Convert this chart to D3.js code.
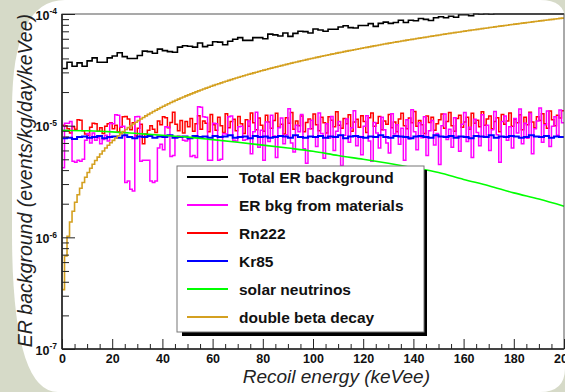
<!DOCTYPE html>
<html>
<head>
<meta charset="utf-8">
<script src="https://cdn.jsdelivr.net/npm/d3@7"></script>
<style>
  html, body { margin: 0; padding: 0; background: #d6dac8; }
  svg { display: block; font-family: "Liberation Sans", Arial, Helvetica, sans-serif; }
</style>
</head>
<body>
<svg id="chart" width="565" height="392"></svg>
<script>
  // all rates are in units of 1e-6 events/kg/day/keVee
  const UNIT = 1e-6;

  const xTicks = [0, 20, 40, 60, 80, 100, 120, 140, 160, 180, 200];
  const yDecades = [1e-7, 1e-6, 1e-5, 1e-4];

  // total ER background, 2 keV bins
  const totalBkg = [
    32.5, 37, 34, 36.5, 34, 38, 40.5, 37, 37, 40.5,
    42, 45, 41.5, 40, 40, 42.5, 46.5, 46, 44.5, 48.5,
    47, 46, 45.5, 50.5, 52, 51.5, 50.5, 55, 51, 52.5,
    56.5, 56, 53, 57, 59.5, 61.5, 58, 58, 61.5, 61.5,
    60, 66, 65, 63.5, 67.5, 63, 67, 70, 69.5, 67.5,
    73.5, 72, 70, 73, 73, 76.5, 78.5, 75.5, 75, 79,
    79, 82, 77.5, 82.5, 84.5, 82.5, 84, 88, 84, 88,
    87, 91, 89.5, 87.5, 92.5, 94.5, 92.5, 95.5, 93.5, 98.5,
    98.5, 96.5, 101, 99.5, 102.5, 99.5, 104.5, 106.5, 103.5, 107.5,
    107.5, 107.5, 111.5, 110.5, 111, 114, 114, 116, 115, 118.5
  ];

  // ER bkg from materials, 1 keV bins
  const materials = [
    4.2, 10.5, 10.5, 10.9, 4.8, 4.7, 4.9, 4.8, 5.0, 7.4,
    8.5, 7.0, 8.6, 7.4, 7.8, 6.9, 7.5, 8.2, 7.3, 10.5,
    10.4, 12.5, 12.4, 9.8, 9.9, 3.1, 3.2, 2.7, 2.6, 12.0,
    12.1, 4.8, 4.9, 4.9, 4.9, 3.2, 3.1, 3.2, 6.3, 6.8,
    6.1, 9.8, 9.7, 5.3, 5.4, 7.9, 8.1, 7.9, 7.4, 7.3,
    7.5, 5.3, 5.4, 5.2, 14.8, 14.6, 12.0, 11.9, 4.9, 4.9,
    10.5, 10.4, 4.9, 5.0, 8.5, 8.4, 12.0, 12.2, 7.4, 7.3,
    9.8, 9.9, 7.4, 7.5, 11.0, 5.6, 8.8, 13.2, 6.4, 9.1,
    4.9, 10.8, 7.2, 12.4, 8.1, 5.2, 9.6, 11.7, 6.9, 8.3,
    14.2, 7.0, 5.8, 10.1, 8.8, 12.6, 6.2, 4.6, 9.4, 11.2,
    7.9, 6.5, 13.0, 8.5, 5.1, 10.4, 7.7, 12.1, 6.0, 8.9,
    10.9, 4.4, 8.2, 11.5, 7.1, 9.6, 13.6, 6.6, 8.0, 5.5,
    9.9, 12.3, 7.3, 4.8, 10.7, 8.6, 6.3, 11.9, 9.2, 7.0,
    5.7, 12.8, 8.4, 10.2, 6.8, 9.5, 4.9, 11.3, 7.6, 13.9,
    8.8, 6.1, 10.6, 7.8, 12.0, 5.4, 9.0, 11.1, 6.7, 8.5,
    4.5, 10.0, 12.7, 7.5, 9.3, 6.4, 11.8, 8.0, 5.9, 10.3,
    13.1, 7.2, 9.7, 5.2, 11.4, 8.7, 6.6, 12.5, 7.9, 10.1,
    6.0, 9.2, 13.4, 8.3, 4.7, 10.9, 12.2, 7.4, 9.8, 6.3,
    11.6, 8.6, 14.1, 6.9, 10.5, 7.7, 12.9, 5.6, 9.4, 11.0,
    14.4, 7.1, 10.2, 13.5, 6.5, 9.9, 12.0, 8.2, 13.8, 10.6
  ];

  // Rn222, 1 keV bins
  const rn222 = [
    10.1, 10.0, 9.4, 8.6, 9.8, 9.3, 11.3, 11.2, 9.0, 8.4,
    8.2, 9.7, 10.5, 10.4, 8.9, 9.6, 8.5, 9.9, 10.4, 10.6,
    9.4, 10.1, 8.8, 9.7, 12.0, 12.1, 11.5, 9.2, 10.6, 8.1,
    9.5, 10.3, 6.9, 8.4, 9.1, 10.0, 9.3, 8.7, 11.0, 10.2,
    12.0, 11.8, 9.6, 10.7, 13.2, 10.3, 9.0, 11.1, 8.6, 10.9,
    9.8, 11.6, 8.9, 10.4, 12.3, 9.3, 11.0, 10.5, 8.8, 12.6,
    10.2, 9.1, 11.9, 10.0, 8.7, 12.8, 9.6, 10.9, 11.4, 9.0,
    12.1, 10.4, 8.5, 11.3, 9.9, 13.0, 10.6, 9.2, 11.7, 10.1,
    8.9, 12.4, 10.8, 9.5, 11.1, 12.9, 9.7, 10.3, 8.4, 11.8,
    10.5, 13.1, 9.3, 11.0, 10.0, 12.2, 8.8, 10.7, 11.5, 9.4,
    12.7, 10.2, 9.0, 11.9, 10.6, 8.6, 12.0, 11.2, 9.8, 13.3,
    10.1, 9.5, 11.6, 10.4, 12.5, 8.9, 10.8, 11.4, 9.7, 12.3,
    10.9, 8.7, 11.8, 13.0, 9.9, 10.5, 12.1, 9.2, 11.0, 10.3,
    12.6, 9.6, 10.8, 8.8, 11.5, 12.9, 10.0, 9.4, 11.7, 10.6,
    13.4, 9.9, 11.1, 10.2, 8.5, 12.2, 10.7, 11.9, 9.1, 10.4,
    11.3, 12.7, 9.5, 10.9, 13.1, 10.0, 8.9, 11.6, 12.4, 9.7,
    10.8, 11.9, 9.3, 12.9, 10.5, 11.2, 9.8, 13.3, 10.1, 11.5,
    12.2, 9.4, 10.9, 11.8, 8.8, 12.6, 10.3, 11.0, 13.0, 9.9,
    11.4, 10.6, 12.5, 9.2, 11.9, 10.2, 13.2, 10.8, 9.6, 12.0,
    11.1, 12.8, 10.4, 9.5, 13.5, 11.3, 10.0, 12.4, 11.7, 13.6
  ];

  // Kr85, 2 keV bins
  const kr85 = [
    7.7, 7.8, 7.6, 7.9, 8.0, 7.8, 7.9, 8.1, 7.7, 7.9,
    8.0, 7.8, 8.2, 7.9, 7.7, 8.0, 7.9, 8.1, 7.8, 8.0,
    7.9, 8.2, 7.8, 7.9, 8.0, 7.7, 8.1, 7.9, 8.0, 7.8,
    8.1, 7.9, 8.0, 8.2, 7.8, 7.9, 8.0, 7.7, 8.1, 7.9,
    8.0, 7.8, 7.9, 8.1, 8.0, 7.8, 8.2, 7.9, 7.8, 8.0,
    7.9, 8.1, 7.8, 8.0, 7.9, 8.2, 7.7, 8.0, 8.1, 7.9,
    7.8, 8.0, 7.9, 8.2, 7.9, 7.8, 8.1, 8.0, 7.9, 7.7,
    8.0, 8.1, 7.9, 7.8, 8.2, 8.0, 7.9, 8.1, 7.8, 8.0,
    7.9, 7.7, 8.1, 8.0, 7.9, 8.2, 7.8, 8.0, 7.9, 8.1,
    8.0, 7.8, 7.9, 8.2, 8.0, 7.9, 8.1, 7.8, 8.0, 7.9
  ];

  // solar neutrinos, read every 10 keV
  const solarE = [0, 10, 20, 30, 40, 50, 60, 70, 80, 90, 100, 110, 120, 130, 140, 150, 160, 170, 180, 190, 200];
  const solarNu = [9.1, 9.0, 8.8, 8.5, 8.2, 7.9, 7.5, 7.1, 6.7, 6.3, 5.9, 5.4, 5.0, 4.6, 4.2, 3.8, 3.3, 2.9, 2.5, 2.2, 1.9];

  // double beta decay, 1 keV bins
  const doubleBeta = [
    0.34, 0.68, 1.02, 1.37, 1.71, 2.06, 2.41, 2.75, 3.10, 3.45,
    3.81, 4.16, 4.51, 4.87, 5.23, 5.58, 5.94, 6.30, 6.67, 7.03,
    7.39, 7.76, 8.12, 8.49, 8.86, 9.23, 9.60, 9.97, 10.35, 10.72,
    11.10, 11.48, 11.85, 12.23, 12.61, 13.0, 13.38, 13.76, 14.15, 14.54,
    14.92, 15.31, 15.70, 16.10, 16.49, 16.88, 17.28, 17.67, 18.07, 18.47,
    18.87, 19.27, 19.67, 20.08, 20.48, 20.89, 21.30, 21.70, 22.11, 22.52,
    22.94, 23.35, 23.76, 24.18, 24.60, 25.01, 25.43, 25.85, 26.28, 26.70,
    27.12, 27.55, 27.97, 28.40, 28.83, 29.26, 29.69, 30.12, 30.56, 30.99,
    31.43, 31.87, 32.30, 32.74, 33.18, 33.63, 34.07, 34.51, 34.96, 35.41,
    35.85, 36.30, 36.75, 37.21, 37.66, 38.11, 38.57, 39.02, 39.48, 39.94,
    40.4, 40.9, 41.3, 41.8, 42.3, 42.7, 43.2, 43.7, 44.1, 44.6,
    45.1, 45.5, 46.0, 46.5, 47.0, 47.4, 47.9, 48.4, 48.9, 49.4,
    49.9, 50.3, 50.8, 51.3, 51.8, 52.3, 52.8, 53.3, 53.8, 54.3,
    54.8, 55.3, 55.8, 56.3, 56.8, 57.3, 57.8, 58.3, 58.8, 59.3,
    59.8, 60.3, 60.8, 61.3, 61.8, 62.3, 62.9, 63.4, 63.9, 64.4,
    64.9, 65.5, 66.0, 66.5, 67.0, 67.5, 68.1, 68.6, 69.1, 69.7,
    70.2, 70.7, 71.3, 71.8, 72.3, 72.9, 73.4, 74.0, 74.5, 75.0,
    75.6, 76.1, 76.7, 77.2, 77.8, 78.3, 78.9, 79.4, 80.0, 80.5,
    81.1, 81.6, 82.2, 82.8, 83.3, 83.9, 84.4, 85.0, 85.6, 86.1,
    86.7, 87.3, 87.9, 88.4, 89.0, 89.6, 90.1, 90.7, 91.3, 91.9
  ];

  const legendLabels = ['Total ER background', 'ER bkg from materials', 'Rn222', 'Kr85', 'solar neutrinos', 'double beta decay'];
  const legendColors = ['#000000', '#ff00ff', '#ff0000', '#0000ff', '#00ff00', '#d4a020'];

  const svg = d3.select('#chart');
  const frame = { left: 62, right: 564, top: 14, bottom: 349 };

  const x = d3.scaleLinear().domain([0, 200]).range([frame.left, frame.right]);
  const y = d3.scaleLog().domain([1e-7, 1e-4]).range([frame.bottom, frame.top]).clamp(true);

  // white rounded panel on the grey-green slide
  svg.append('rect').attr('width', 565).attr('height', 392).attr('fill', '#d6dac8');
  svg.append('path')
    .attr('d', 'M65,0 H540 Q565,0 565,20 V368 Q565,392 540,392 H58 Q12,392 12,232 V110 Q12,0 65,0 Z')
    .attr('fill', '#ffffff');

  svg.append('clipPath').attr('id', 'plot-clip')
    .append('rect')
    .attr('x', frame.left).attr('y', frame.top - 2)
    .attr('width', frame.right - frame.left + 2).attr('height', frame.bottom - frame.top + 2);

  // histogram bins -> points for a step line
  const toSteps = (vals, width) => {
    const pts = vals.map((v, i) => [i * width, v * UNIT]);
    pts.push([vals.length * width, vals[vals.length - 1] * UNIT]);
    return pts;
  };

  const stepLine = d3.line().x(d => x(d[0])).y(d => y(d[1])).curve(d3.curveStepAfter);
  const smoothLine = d3.line().x(d => x(d[0])).y(d => y(d[1])).curve(d3.curveMonotoneX);

  const plot = svg.append('g').attr('clip-path', 'url(#plot-clip)');

  const series = [
    { pts: toSteps(totalBkg, 2), line: stepLine, color: legendColors[0], w: 1.6 },
    { pts: toSteps(rn222, 1), line: stepLine, color: legendColors[2], w: 1.5 },
    { pts: toSteps(materials, 1), line: stepLine, color: legendColors[1], w: 1.5 },
    { pts: toSteps(kr85, 2), line: stepLine, color: legendColors[3], w: 2 },
    { pts: solarE.map((e, i) => [e, solarNu[i] * UNIT]), line: smoothLine, color: legendColors[4], w: 1.6 },
    { pts: toSteps(doubleBeta, 1), line: stepLine, color: legendColors[5], w: 1.6 }
  ];

  plot.selectAll('path.series')
    .data(series)
    .enter()
    .append('path')
    .attr('class', 'series')
    .attr('d', s => s.line(s.pts))
    .attr('fill', 'none')
    .attr('stroke', s => s.color)
    .attr('stroke-width', s => s.w);

  // frame
  svg.append('rect')
    .attr('x', frame.left).attr('y', frame.top)
    .attr('width', frame.right - frame.left).attr('height', frame.bottom - frame.top)
    .attr('fill', 'none').attr('stroke', '#555').attr('stroke-width', 1);

  // x axis: minor every 5 keV, major with labels
  const minorX = d3.range(0, 201, 5).filter(v => v % 20 !== 0);
  svg.append('g')
    .attr('transform', `translate(0,${frame.bottom})`)
    .style('color', '#222')
    .call(d3.axisBottom(x).tickValues(minorX).tickSizeInner(-5).tickSizeOuter(0).tickFormat(''))
    .call(g => g.select('.domain').remove());

  svg.append('g')
    .attr('transform', `translate(0,${frame.bottom})`)
    .style('color', '#222')
    .call(d3.axisBottom(x).tickValues(xTicks).tickSizeInner(-10).tickSizeOuter(0).tickPadding(5))
    .call(g => g.select('.domain').remove())
    .call(g => g.selectAll('text')
      .attr('font-size', 12.5)
      .attr('font-weight', 'bold')
      .attr('font-family', '"Liberation Sans", Arial, Helvetica, sans-serif')
      .attr('fill', '#111'));

  // y axis: minor at 2..9 x decade, major decades labelled 10^n
  const minorY = [];
  yDecades.slice(0, -1).forEach(d => {
    for (let k = 2; k <= 9; k++) minorY.push(k * d);
  });

  svg.append('g')
    .attr('transform', `translate(${frame.left},0)`)
    .style('color', '#222')
    .call(d3.axisLeft(y).tickValues(minorY).tickSizeInner(-7).tickSizeOuter(0).tickFormat(''))
    .call(g => g.select('.domain').remove());

  svg.append('g')
    .attr('transform', `translate(${frame.left},0)`)
    .style('color', '#222')
    .call(d3.axisLeft(y).tickValues(yDecades).tickSizeInner(-13).tickSizeOuter(0).tickPadding(5).tickFormat(''))
    .call(g => g.select('.domain').remove())
    .call(g => {
      const t = g.selectAll('.tick text')
        .attr('dy', '0.52em')
        .attr('font-weight', 'bold')
        .attr('font-family', '"Liberation Sans", Arial, Helvetica, sans-serif')
        .attr('fill', '#111');
      t.append('tspan').attr('font-size', 12.5).text('10');
      t.append('tspan').attr('font-size', 8.5).attr('dy', -5.5).text(d => Math.round(Math.log10(d)));
    });

  // axis lines
  svg.append('line')
    .attr('x1', frame.left).attr('x2', frame.left)
    .attr('y1', frame.top).attr('y2', frame.bottom)
    .attr('stroke', '#222').attr('stroke-width', 1.6);
  svg.append('line')
    .attr('x1', frame.left).attr('x2', frame.right)
    .attr('y1', frame.bottom).attr('y2', frame.bottom)
    .attr('stroke', '#222').attr('stroke-width', 1.6);

  // axis titles
  svg.append('text')
    .attr('x', 430).attr('y', 383)
    .attr('text-anchor', 'end')
    .attr('font-size', 19)
    .attr('font-style', 'italic')
    .attr('fill', '#222')
    .text('Recoil energy (keVee)');

  svg.append('text')
    .attr('transform', `translate(32,${frame.top}) rotate(-90)`)
    .attr('text-anchor', 'end')
    .attr('font-size', 19.5)
    .attr('font-style', 'italic')
    .attr('fill', '#222')
    .text('ER background (events/kg/day/keVee)');

  // legend
  const legend = svg.append('g');
  legend.append('rect')
    .attr('x', 182).attr('y', 170).attr('width', 245).attr('height', 166)
    .attr('fill', '#000');
  legend.append('rect')
    .attr('x', 177).attr('y', 166).attr('width', 247).attr('height', 166)
    .attr('fill', '#fff').attr('stroke', '#777').attr('stroke-width', 1);

  const rowY = d3.scaleLinear().domain([0, legendLabels.length - 1]).range([177, 317]);

  const rows = legend.selectAll('g.row')
    .data(legendLabels)
    .enter()
    .append('g')
    .attr('class', 'row')
    .attr('transform', (d, i) => `translate(0,${rowY(i)})`);

  rows.append('line')
    .attr('x1', 187).attr('x2', 228)
    .attr('stroke', (d, i) => legendColors[i])
    .attr('stroke-width', 2);

  rows.append('text')
    .attr('x', 239).attr('y', 5.5)
    .attr('font-size', 15.5)
    .attr('font-weight', 'bold')
    .attr('fill', '#111')
    .text(d => d);
</script>
</body>
</html>
